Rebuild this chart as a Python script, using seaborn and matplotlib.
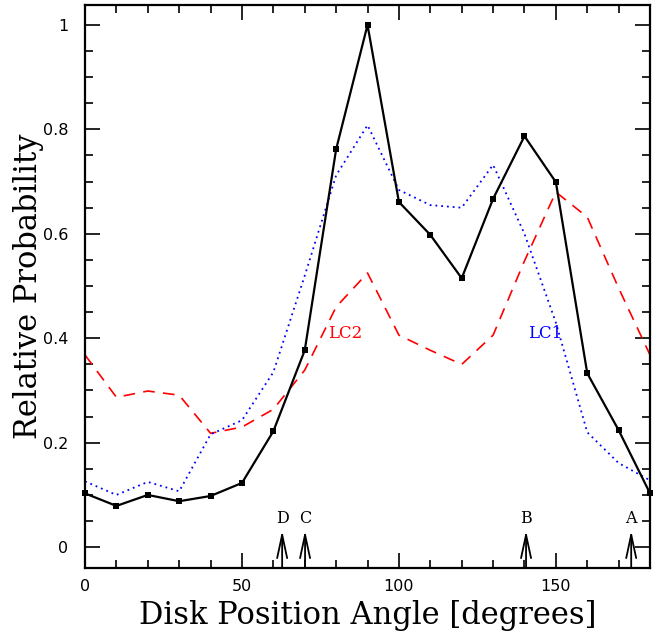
import numpy as np
import pandas as pd
import matplotlib
matplotlib.use("Agg")
import matplotlib.pyplot as plt
import seaborn as sns
from matplotlib.ticker import MultipleLocator

angles = [0, 10, 20, 30, 40, 50, 60, 70, 80, 90, 100, 110, 120, 130, 140, 150, 160, 170, 180]
total = [0.103, 0.079, 0.100, 0.088, 0.098, 0.123, 0.222, 0.377, 0.762, 1.000, 0.661, 0.598,
         0.515, 0.667, 0.787, 0.699, 0.333, 0.224, 0.103]
lc1 = [0.126, 0.100, 0.125, 0.107, 0.216, 0.243, 0.335, 0.520, 0.712, 0.808, 0.684, 0.655,
       0.650, 0.732, 0.600, 0.430, 0.220, 0.161, 0.128]
lc2 = [0.368, 0.287, 0.299, 0.291, 0.218, 0.230, 0.264, 0.339, 0.460, 0.525, 0.406, 0.377,
       0.350, 0.406, 0.548, 0.680, 0.632, 0.496, 0.368]

marker_labels = ["D", "C", "B", "A"]
marker_angles = [62.8, 70.1, 140.5, 174.0]

df = pd.DataFrame({"angle": angles, "total": total, "lc1": lc1, "lc2": lc2})

sns.set_theme(style="ticks")
plt.rcParams['font.family'] = ['DejaVu Serif']
plt.rcParams['text.color'] = 'black'
plt.rcParams['axes.labelcolor'] = 'black'
plt.rcParams['xtick.color'] = 'black'
plt.rcParams['ytick.color'] = 'black'
plt.rcParams['axes.edgecolor'] = 'black'

fig = plt.figure(figsize=(6.70, 6.34), dpi=100)
ax = fig.add_axes([0.1269, 0.104, 0.8433, 0.888])

sns.lineplot(data=df, x="angle", y="lc2", ax=ax, color="red", linewidth=1.2,
             linestyle=(0, (7, 5)))
sns.lineplot(data=df, x="angle", y="lc1", ax=ax, color="blue", linewidth=1.3,
             linestyle=(0, (1, 2.2)))
sns.lineplot(data=df, x="angle", y="total", ax=ax, color="black", linewidth=1.6,
             marker="s", markersize=4.5, markeredgewidth=0, clip_on=False)

ax.text(82.8, 0.41, "LC2", color="red", fontsize=12, ha="center", va="center")
ax.text(146.5, 0.41, "LC1", color="blue", fontsize=12, ha="center", va="center")

for lab, a in zip(marker_labels, marker_angles):
    ax.annotate("", xy=(a, 0.032), xytext=(a, -0.04),
                arrowprops=dict(arrowstyle="->,head_length=1.4,head_width=0.3",
                                color="black", lw=1.3, shrinkA=0, shrinkB=0))
    ax.text(a, 0.054, lab, fontsize=11.5, ha="center", va="center")

ax.set_xlim(0, 180)
ax.set_ylim(-0.04, 1.038)
ax.xaxis.set_minor_locator(MultipleLocator(10))
ax.yaxis.set_minor_locator(MultipleLocator(0.05))
ax.set_xticks([0, 50, 100, 150])
ax.set_xticklabels(["0", "50", "100", "150"])
ax.set_yticks([0, 0.2, 0.4, 0.6, 0.8, 1.0])
ax.set_yticklabels(["0", "0.2", "0.4", "0.6", "0.8", "1"])
ax.tick_params(which="both", direction="in", top=True, right=True, width=1.2,
               labelsize=11.5)
ax.tick_params(axis="y", pad=12)
ax.tick_params(axis="x", pad=8)
ax.tick_params(which="major", length=11)
ax.tick_params(which="minor", length=5.5)
for lab in ax.get_xticklabels() + ax.get_yticklabels():
    lab.set_family("DejaVu Sans")
for s in ax.spines.values():
    s.set_linewidth(1.6)

ax.set_xlabel("Disk Position Angle [degrees]", fontsize=22, labelpad=4)
ax.set_ylabel("Relative Probability", fontsize=22, labelpad=-1)

fig.savefig("out.png", dpi=100)
